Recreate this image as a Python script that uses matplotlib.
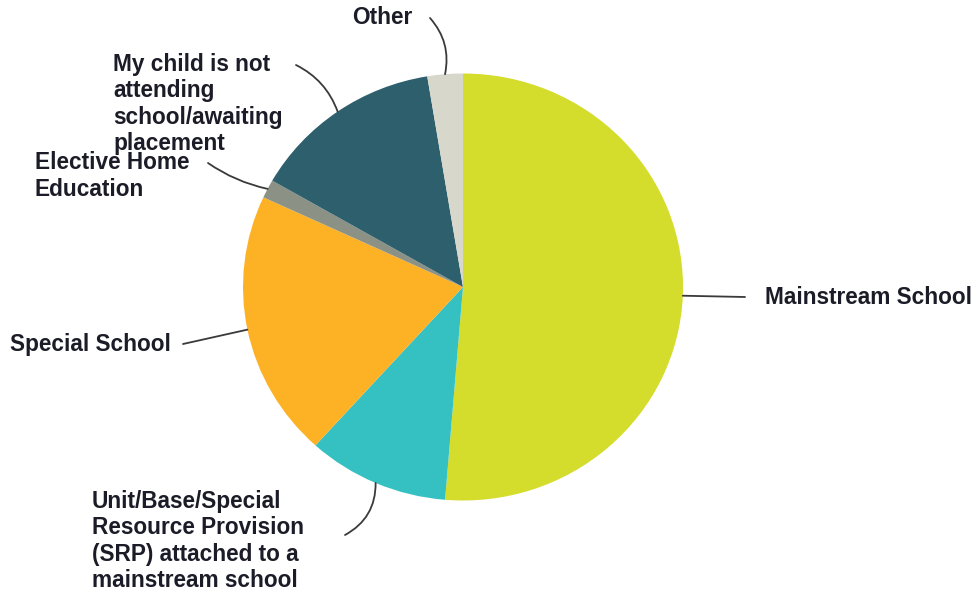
import matplotlib.pyplot as plt
import numpy as np

plt.rcParams['font.family'] = ['Liberation Sans', 'DejaVu Sans']

# data
labels = ['Mainstream School',
          'Unit/Base/Special\nResource Provision\n(SRP) attached to a\nmainstream school',
          'Special School',
          'Elective Home\nEducation',
          'My child is not\nattending\nschool/awaiting\nplacement',
          'Other']
values = [51.3, 10.4, 20.2, 1.4, 14.1, 2.6]
colors = ['#D4DC2C', '#35C0C2', '#FDB226', '#8C9186', '#2D5F6C', '#D8D7CB']

# label layout in pixels: text left/center, leader end, curvature
text_pos = [(765, 298), (92, 541), (10, 345), (35, 176), (113, 104), (352, 18)]
line_end = [(745, 297), (345, 535), (183, 344), (208, 163), (296, 65), (430, 18)]
rads = [0, 0.3, 0, 0.1, -0.2, -0.25]

W, H = 979, 593
cx, cy, rx, ry = 463, 287, 220, 213.5


def px(p):
    return ((p[0] - cx) / rx, (cy - p[1]) / ry)


fig = plt.figure(figsize=(W / 100, H / 100), dpi=100)
ax = fig.add_axes([0, 0, 1, 1])
wedges, _ = ax.pie(values, colors=colors, startangle=90, counterclock=False,
                   wedgeprops=dict(linewidth=0))
ax.set_aspect('auto')
ax.set_xlim(-cx / rx, (W - cx) / rx)
ax.set_ylim(-(H - cy) / ry, cy / ry)
ax.axis('off')

for w, lab, tp, le, rad in zip(wedges, labels, text_pos, line_end, rads):
    ang = np.deg2rad((w.theta1 + w.theta2) / 2)
    edge = (np.cos(ang), np.sin(ang))
    ax.annotate('', xy=edge, xytext=px(le),
                arrowprops=dict(arrowstyle='-', color='#3a3a3a', lw=1.3,
                                connectionstyle='arc3,rad=%s' % rad,
                                shrinkA=0, shrinkB=0))
    ax.text(*px(tp), lab, ha='left', va='center', multialignment='left',
            fontsize=16.3, fontweight='bold', color='#1c1c28', linespacing=1.18)

fig.savefig('out.png', dpi=100)
